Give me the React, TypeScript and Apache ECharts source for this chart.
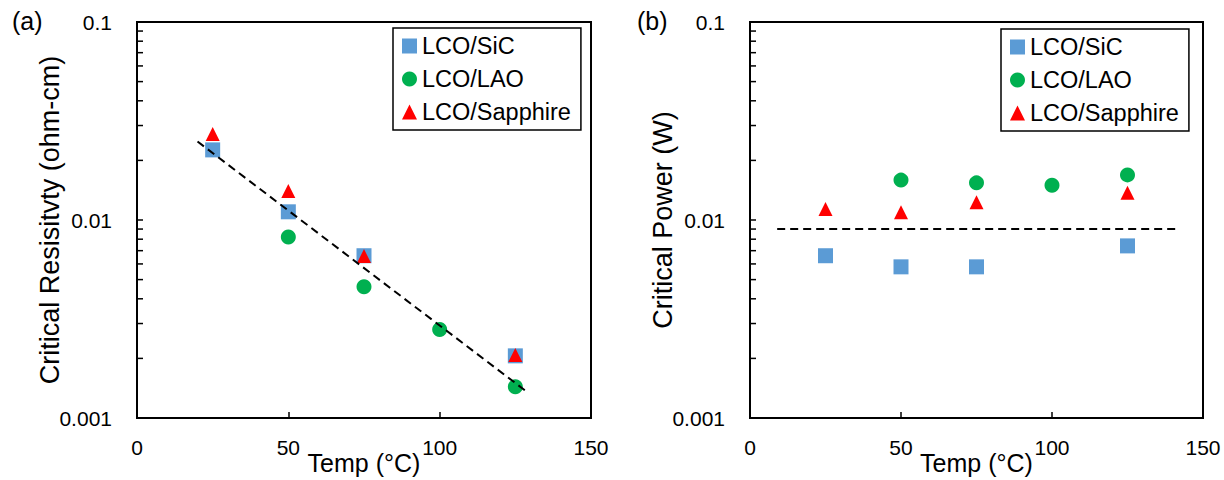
import React, { useEffect, useRef } from "react";
import * as echarts from "echarts";

const FONT = "'Liberation Sans', Arial, Helvetica, sans-serif";

// Temperatures (°C)
const tempSiC = [25, 50, 75, 125];
const tempLAO = [50, 75, 100, 125];
const tempSapphire = [25, 50, 75, 125];

// (a) Critical resistivity (ohm-cm)
const resSiC = [0.0226, 0.011, 0.0066, 0.00206];
const resLAO = [0.0082, 0.0046, 0.0028, 0.00144];
const resSapphire = [0.0272, 0.014, 0.00658, 0.00208];
const resFitX = [20, 129];
const resFitY = [0.0249, 0.00135];

// (b) Critical power (W)
const powSiC = [0.0066, 0.0058, 0.0058, 0.0074];
const powLAO = [0.0159, 0.0154, 0.015, 0.0169];
const powSapphire = [0.01137, 0.01094, 0.01228, 0.01374];
const powFitX = [9, 142];
const powFitY = [0.009, 0.009];

const seriesNames = ["LCO/SiC", "LCO/LAO", "LCO/Sapphire"];
const yTickLabels: Record<string, string> = { "0.001": "0.001", "0.01": "0.01", "0.1": "0.1" };
// log minor tick positions on the y axes
const yMinorTicks = [
  0.002, 0.003, 0.004, 0.005, 0.006, 0.007, 0.008, 0.009,
  0.02, 0.03, 0.04, 0.05, 0.06, 0.07, 0.08, 0.09,
];

const BLUE = "#5B9BD5";
const GREEN = "#00B050";
const RED = "#FF0000";

function zip(xs: number[], ys: number[]) {
  return xs.map((x, i) => [x, ys[i]]);
}

function xAxisOf(gridIndex: number) {
  return {
    type: "value",
    gridIndex,
    min: 0,
    max: 150,
    interval: 50,
    name: "Temp (°C)",
    nameLocation: "middle",
    nameGap: 32,
    nameMoveOverlap: false,
    nameTextStyle: { fontSize: 25, color: "#000", fontFamily: FONT },
    axisLine: { show: true, lineStyle: { color: "#000", width: 2 } },
    axisTick: { show: true, inside: true, length: 6, lineStyle: { color: "#000", width: 1.5 } },
    axisLabel: { fontSize: 21, color: "#000", fontFamily: FONT, margin: 19 },
    splitLine: { show: false },
  };
}

function yAxisOf(gridIndex: number, name: string) {
  return {
    type: "log",
    logBase: 10,
    gridIndex,
    min: 0.001,
    max: 0.1,
    name,
    nameLocation: "middle",
    nameGap: 74,
    nameRotate: 90,
    nameMoveOverlap: false,
    nameTextStyle: { fontSize: 27, color: "#000", fontFamily: FONT },
    axisLine: { show: true, lineStyle: { color: "#000", width: 2 } },
    axisTick: { show: true, inside: true, length: 6, lineStyle: { color: "#000", width: 1.5 } },
    minorTick: { show: false },
    axisLabel: {
      fontSize: 21,
      color: "#000",
      fontFamily: FONT,
      margin: 25,
      formatter: (v: number) => {
        const k = String(Number(v.toPrecision(3)));
        return yTickLabels[k] ?? k;
      },
    },
    splitLine: { show: false },
    minorSplitLine: { show: false },
  };
}

function minorTickSeries(idx: number) {
  return {
    type: "custom",
    xAxisIndex: idx,
    yAxisIndex: idx,
    silent: true,
    z: 5,
    data: yMinorTicks.map((v) => [0, v]),
    renderItem: (_params: any, api: any) => {
      const p = api.coord([0, api.value(1)]);
      return {
        type: "line",
        shape: { x1: p[0], y1: p[1], x2: p[0] + 6, y2: p[1] },
        style: { stroke: "#000", lineWidth: 1.5 },
      };
    },
  };
}

function scatterSeries(name: string, idx: number, data: number[][], symbol: string, size: any, color: string) {
  return {
    type: "scatter",
    name,
    xAxisIndex: idx,
    yAxisIndex: idx,
    data,
    symbol,
    symbolSize: size,
    itemStyle: { color, opacity: 1 },
    z: 3,
  };
}

function fitSeries(idx: number, data: number[][]) {
  return {
    type: "line",
    xAxisIndex: idx,
    yAxisIndex: idx,
    data,
    showSymbol: false,
    symbol: "none",
    lineStyle: { color: "#000", width: 2, type: [8, 5] },
    z: 4,
    silent: true,
  };
}

function legendOf(left: number, top: number) {
  return {
    left,
    top,
    orient: "vertical",
    data: seriesNames,
    itemWidth: 15,
    itemHeight: 15,
    itemGap: 9,
    padding: [6, 10, 6, 9],
    borderColor: "#000",
    borderWidth: 1.5,
    borderRadius: 0,
    backgroundColor: "#fff",
    textStyle: { fontSize: 23.5, color: "#000", fontFamily: FONT },
    selectedMode: false,
  };
}

export default function App() {
  const ref = useRef<HTMLDivElement>(null);

  useEffect(() => {
    if (!ref.current) return;
    const chart = echarts.init(ref.current, null, { renderer: "svg" });
    const option: any = {
      animation: false,
      backgroundColor: "#fff",
      textStyle: { fontFamily: FONT },
      grid: [
        { left: 137, top: 22, width: 454, height: 396, outerBoundsMode: "none", containLabel: false, show: true, borderColor: "#000", borderWidth: 2, backgroundColor: "transparent" },
        { left: 750, top: 22, width: 453, height: 396, outerBoundsMode: "none", containLabel: false, show: true, borderColor: "#000", borderWidth: 2, backgroundColor: "transparent" },
      ],
      xAxis: [xAxisOf(0), xAxisOf(1)],
      yAxis: [yAxisOf(0, "Critical Resisitvty (ohm-cm)"), yAxisOf(1, "Critical Power (W)")],
      legend: [legendOf(393, 28), legendOf(1001, 29)],
      graphic: [
        { type: "text", left: 12, top: 8, style: { text: "(a)", fontSize: 25, fill: "#000", fontFamily: FONT } },
        { type: "text", left: 637, top: 8, style: { text: "(b)", fontSize: 25, fill: "#000", fontFamily: FONT } },
      ],
      series: [
        minorTickSeries(0),
        minorTickSeries(1),
        scatterSeries("LCO/SiC", 0, zip(tempSiC, resSiC), "rect", 15, BLUE),
        scatterSeries("LCO/LAO", 0, zip(tempLAO, resLAO), "circle", 15, GREEN),
        scatterSeries("LCO/Sapphire", 0, zip(tempSapphire, resSapphire), "triangle", [14, 14], RED),
        fitSeries(0, zip(resFitX, resFitY)),
        scatterSeries("LCO/SiC", 1, zip(tempSiC, powSiC), "rect", 15, BLUE),
        scatterSeries("LCO/LAO", 1, zip(tempLAO, powLAO), "circle", 15, GREEN),
        scatterSeries("LCO/Sapphire", 1, zip(tempSapphire, powSapphire), "triangle", [14, 14], RED),
        fitSeries(1, zip(powFitX, powFitY)),
      ],
    };
    chart.setOption(option);
    return () => chart.dispose();
  }, []);

  return (
    <div
      ref={ref}
      style={{ position: "fixed", left: 0, top: 0, width: 1224, height: 480, background: "#fff" }}
    />
  );
}
